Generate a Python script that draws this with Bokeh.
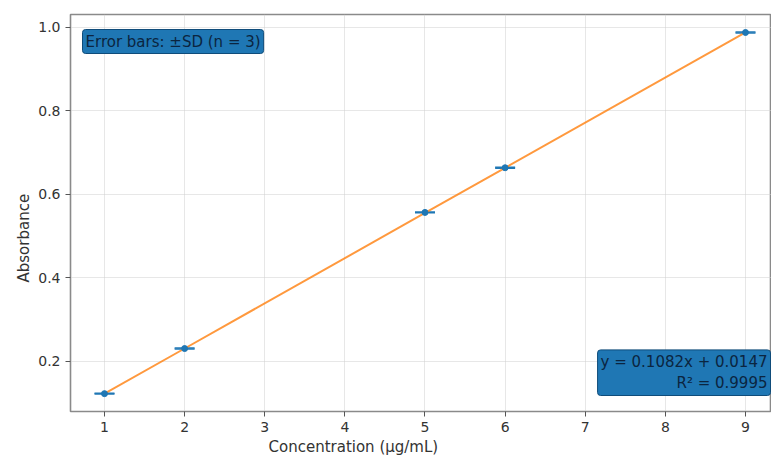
import numpy as np
from bokeh.plotting import figure
from bokeh.models import Range1d, FixedTicker, PrintfTickFormatter, Label, Whisker, ColumnDataSource, TeeHead, Title
from bokeh.embed import file_html
from bokeh.resources import INLINE

concentration = [1, 2, 5, 6, 9]
absorbance = [0.123, 0.231, 0.557, 0.664, 0.988]
sd = [0.001, 0.001, 0.001, 0.001, 0.001]
slope = 0.1082
intercept = 0.0147
r2 = 0.9995
x_ticks = [1, 2, 3, 4, 5, 6, 7, 8, 9]
y_ticks = [0.2, 0.4, 0.6, 0.8, 1.0]
x_label = "Concentration (µg/mL)"
y_label = "Absorbance"

FONT = "DejaVu Sans"

p = figure(width=771, height=459, output_backend="svg", toolbar_location=None,
           x_range=Range1d(0.5757, 9.3245), y_range=Range1d(0.0802, 1.0311),
           min_border_left=70, min_border_top=14, min_border_bottom=48, min_border_right=0)

p.outline_line_color = "#8a8a8a"
p.outline_line_width = 1.6
p.background_fill_color = "white"
p.border_fill_color = "white"

for ax in (p.xaxis[0], p.yaxis[0]):
    ax.axis_line_color = None
    ax.major_tick_line_color = "#555555"
    ax.major_tick_out = 5
    ax.major_tick_in = 0
    ax.minor_tick_line_color = None
    ax.major_label_text_font = FONT
    ax.major_label_text_font_size = "14px"
    ax.major_label_text_color = "#333333"

p.xaxis.ticker = FixedTicker(ticks=x_ticks)
p.yaxis.ticker = FixedTicker(ticks=y_ticks)
p.yaxis.formatter = PrintfTickFormatter(format="%.1f")
p.xaxis.major_label_standoff = 5
p.yaxis.major_label_standoff = 5

p.grid.grid_line_color = "#d0d0d0"
p.grid.grid_line_alpha = 0.5
p.grid.grid_line_width = 1

xs = np.array(concentration, dtype=float)
fit_y = slope * xs + intercept
p.line(xs, fit_y, line_color="#ff7f0e", line_width=2, line_alpha=0.8)

src = ColumnDataSource(dict(x=concentration, y=absorbance,
                            lo=[a - s for a, s in zip(absorbance, sd)],
                            hi=[a + s for a, s in zip(absorbance, sd)]))
w = Whisker(source=src, base="x", lower="lo", upper="hi", dimension="height",
            line_color="#1f77b4", line_width=1.5,
            upper_head=TeeHead(size=20, line_color="#1f77b4", line_width=1.5),
            lower_head=TeeHead(size=20, line_color="#1f77b4", line_width=1.5))
p.add_layout(w)
p.scatter("x", "y", source=src, size=6, color="#1f77b4")

# axis titles, offset from the frame start as in the reference
p.add_layout(Title(text=x_label, align="left", offset=198, standoff=3,
                   text_font=FONT, text_font_size="15px", text_font_style="normal",
                   text_color="#333333"), "below")
p.add_layout(Title(text=y_label, align="left", offset=129, standoff=5,
                   text_font=FONT, text_font_size="15px", text_font_style="normal",
                   text_color="#333333"), "left")

lab1 = Label(x=12, y=382, x_units="screen", y_units="screen",
             text="Error bars: ±SD (n = 3)", anchor="top_left",
             text_font=FONT, text_font_size="15px", text_color="#0b2540",
             background_fill_color="#1f77b4", background_fill_alpha=1.0,
             border_line_color="#0f4c7a", border_line_width=1,
             padding=3, border_radius=3)
p.add_layout(lab1)

lab2 = Label(x=700, y=16, x_units="screen", y_units="screen",
             text=f"y = {slope:.4f}x + {intercept:.4f}\nR² = {r2:.4f}", anchor="bottom_right",
             text_align="right",
             text_font=FONT, text_font_size="15px", text_color="#0b2540",
             background_fill_color="#1f77b4", background_fill_alpha=1.0,
             border_line_color="#0f4c7a", border_line_width=1,
             padding=3, border_radius=3)
p.add_layout(lab2)

open("out.html", "w").write(file_html(p, INLINE))
